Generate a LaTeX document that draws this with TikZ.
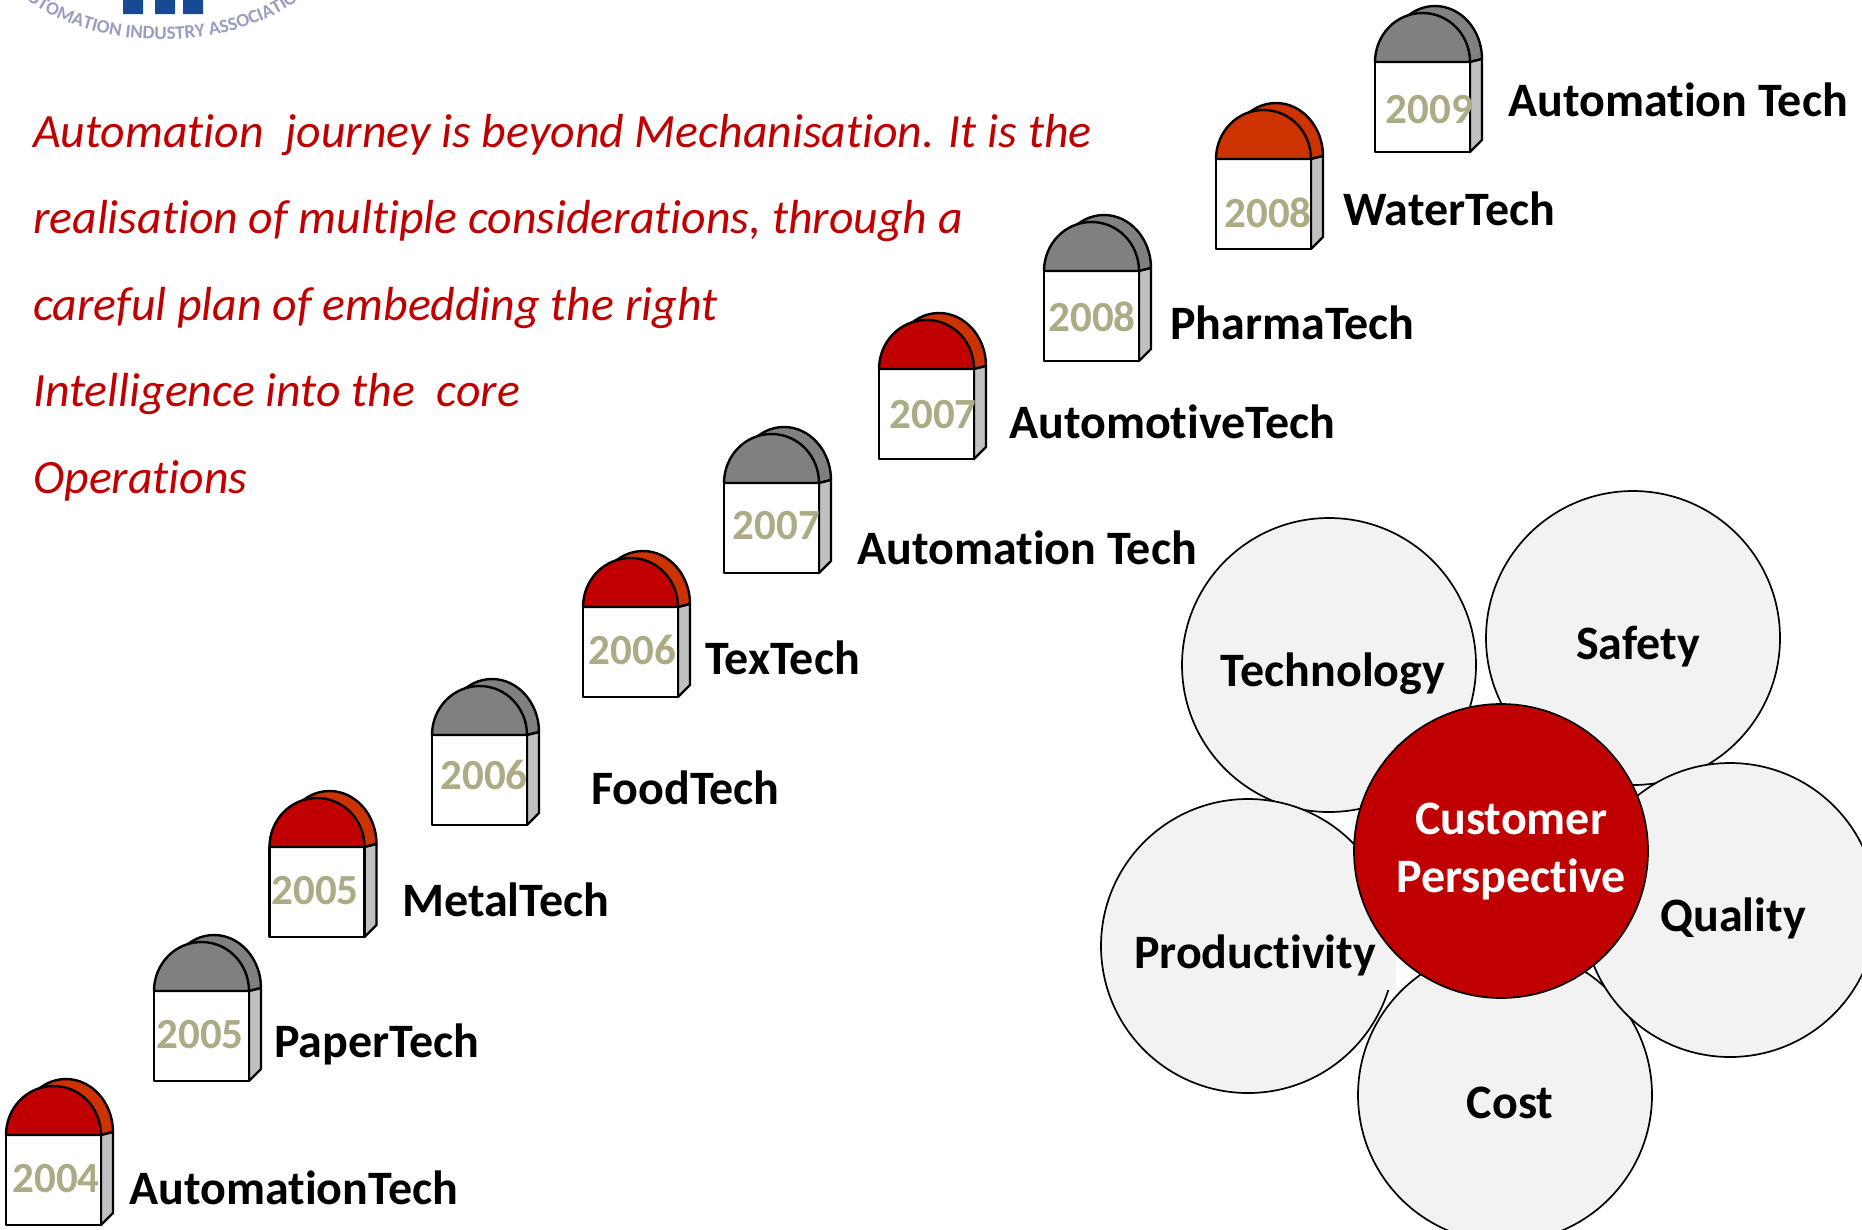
\documentclass[tikz,border=0pt]{standalone}
\usepackage{fontspec}
\setmainfont[Ligatures=NoCommon]{Carlito}
\usetikzlibrary{decorations.text}
\definecolor{capred}{HTML}{C00000}
\definecolor{caporange}{HTML}{CC3300}
\definecolor{capgray}{HTML}{808080}
\definecolor{sidegray}{HTML}{C0C0C0}
\definecolor{yearcol}{HTML}{ADAA86}
\definecolor{petal}{HTML}{F2F2F2}
\definecolor{logotxt}{HTML}{9A9DC0}
\definecolor{logoblue}{HTML}{164A92}
\tikzset{
 stone/.style={draw=black,line width=2.4pt,line join=round},
 yearlbl/.style={font=\fontsize{43}{43}\selectfont\bfseries,text=yearcol,inner sep=0pt},
 techlbl/.style={font=\fontsize{48}{48}\selectfont\bfseries,anchor=west,inner sep=0pt},
 petalc/.style={circle,draw=black,line width=1.7pt,fill=petal,minimum size=294pt,inner sep=0pt},
 petaltxt/.style={font=\fontsize{48}{48}\selectfont\bfseries,inner sep=0pt},
 intro/.style={font=\fontsize{47.8}{47.8}\selectfont\itshape,text=capred,anchor=west,inner sep=0pt},
}
% #1 x, #2 y of the face's top left, #3 front cap, #4 back cap
\newcommand{\mstone}[4]{%
 \begin{scope}[shift={(#1,#2)}]
  \filldraw[stone,fill=#4] (13,-3) .. controls (13,-32) and (34,-56) .. (60,-56) .. controls (86,-56) and (107,-32) .. (107,-3) -- (95,0) -- cycle;
  \filldraw[stone,fill=sidegray] (95,0) -- (107,-3) -- (107,78) -- (95,90) -- cycle;
  \filldraw[stone,fill=white] (0,0) rectangle (95,90);
  \filldraw[stone,fill=#3] (0,0) .. controls (0,-27) and (21,-49) .. (47.5,-49) .. controls (74,-49) and (95,-27) .. (95,0) -- cycle;
 \end{scope}}
\begin{document}
\begin{tikzpicture}[x=1pt,y=-1pt]
\useasboundingbox (0,0) rectangle (1862,1229);
\fill[white] (0,0) rectangle (1862,1229);
% logo remnant
\begin{scope}
\clip (14,0) rectangle (312,42);
\fill[logoblue] (123,0) rectangle (143,14) (155,0) rectangle (175,14) (183,0) rectangle (203,14);
\path[postaction={decorate,decoration={text along path,text align=center,text={|\fontsize{19}{19}\selectfont\bfseries\color{logotxt}|AUTOMATION INDUSTRY ASSOCIATION}}}]
  (-10,-40) .. controls (50,66) and (275,66) .. (335,-40);
\end{scope}
% intro text
\node[intro] (t1) at (33,135) {Automation\ \ journey is beyond Mechanisation. It is the};
\node[intro] (t2) at (33,221) {realisation of multiple considerations, through a};
\node[intro] (t3) at (33,308) {careful plan of embedding the right};
\node[intro] (t4) at (33,394) {Intelligence into the\ \ core};
\node[intro] (t5) at (33,481) {Operations};
% milestones
\mstone{6}{1135}{capred}{caporange}
\mstone{154}{991}{capgray}{capgray}
\mstone{269.5}{847}{capred}{caporange}
\mstone{432}{735}{capgray}{capgray}
\mstone{583}{607}{capred}{caporange}
\mstone{724}{483}{capgray}{capgray}
\mstone{879}{369}{capred}{caporange}
\mstone{1044}{271}{capgray}{capgray}
\mstone{1216}{159}{caporange}{caporange}
\mstone{1375}{62}{capgray}{capgray}
\node[yearlbl] (y1) at (56,1179) {2004};
\node[yearlbl] (y2) at (200,1035) {2005};
\node[yearlbl] (y3) at (315,891) {2005};
\node[yearlbl] (y4) at (484,775) {2006};
\node[yearlbl] (y5) at (632.5,650) {2006};
\node[yearlbl] (y6) at (776.5,526) {2007};
\node[yearlbl] (y7) at (933,415) {2007};
\node[yearlbl] (y8) at (1092,317) {2008};
\node[yearlbl] (y9) at (1268,213) {2008};
\node[yearlbl] (y10) at (1429.5,110) {2009};
\node[techlbl] (l1) at (129,1188) {AutomationTech};
\node[techlbl] (l2) at (274,1044) {PaperTech};
\node[techlbl] (l3) at (402,900) {MetalTech};
\node[techlbl] (l4) at (591,788) {FoodTech};
\node[techlbl] (l5) at (705,658) {TexTech};
\node[techlbl] (l6) at (857,548) {Automation Tech};
\node[techlbl] (l7) at (1009,422) {AutomotiveTech};
\node[techlbl] (l8) at (1170,323) {PharmaTech};
\node[techlbl] (l9) at (1343,209) {WaterTech};
\node[techlbl] (l10) at (1508,100) {Automation Tech};
% petals
\node[petalc] (cost) at (1505,1095) {};
\node[petalc] (safety) at (1633,638) {};
\node[petalc] (quality) at (1730,910) {};
\node[petalc] (technology) at (1329,665) {};
\node[petalc] (productivity) at (1248,946) {};
\fill[petal] (1320,930) rectangle (1396,990);
\node[petalc,fill=capred] (centre) at (1501,851) {};
\node[petaltxt] at (1333,674) {Technology};
\node[petaltxt] at (1638,647) {Safety};
\node[petaltxt] at (1733,918) {Quality};
\node[petaltxt] at (1255,955) {Productivity};
\node[petaltxt] at (1510,1103) {Cost};
\node[petaltxt,text=white,align=center] at (1511,852) {Customer\\[10pt]Perspective};
\end{tikzpicture}
\end{document}
